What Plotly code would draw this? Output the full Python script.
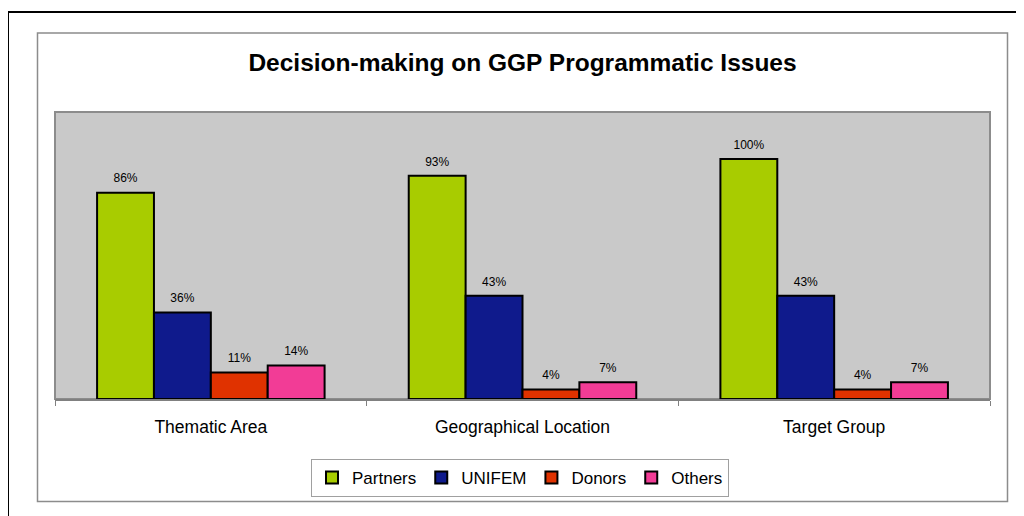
import plotly.graph_objects as go

categories = ["Thematic Area", "Geographical Location", "Target Group"]
series_names = ["Partners", "UNIFEM", "Donors", "Others"]
partners = [86, 93, 100]
unifem = [36, 43, 43]
donors = [11, 4, 4]
others = [14, 7, 7]
colors = ["#A8CC00", "#0F1A8C", "#E03200", "#F23C96"]
title_text = "Decision-making on GGP Programmatic Issues"

values = [partners, unifem, donors, others]

OFF = 8  # page body margin
W, H = 1024, 516
L, R, T, B = 55 - OFF, 990 - OFF, 112 - OFF, 399 - OFF  # plot area in figure px


def px_x(p):
    return (p - OFF - L) / (R - L)


def px_y(p):
    return (B - (p - OFF)) / (B - T)


fig = go.Figure()
for name, vals, col in zip(series_names, values, colors):
    fig.add_trace(go.Bar(
        name=name, x=categories, y=vals,
        marker=dict(color=col, line=dict(color="#000000", width=2)),
        offsetgroup=name, legendgroup=name,
    ))
for name, vals in zip(series_names, values):
    fig.add_trace(go.Scatter(
        x=categories, y=vals, mode="markers+text",
        text=[f"{v}%" for v in vals], textposition="top center",
        textfont=dict(family="Liberation Sans, Arial", size=12, color="#000"),
        marker=dict(size=10, color="rgba(0,0,0,0)", line=dict(width=0)),
        offsetgroup=name, showlegend=False,
        hoverinfo="skip", cliponaxis=False,
    ))

shapes = [
    dict(type="rect", xref="paper", yref="paper",
         x0=px_x(8), x1=px_x(1040), y0=px_y(540), y1=px_y(12),
         line=dict(color="#000000", width=2), fillcolor="rgba(0,0,0,0)", layer="below"),
    dict(type="rect", xref="paper", yref="paper",
         x0=px_x(37.5), x1=px_x(1007.5), y0=px_y(501.5), y1=px_y(33),
         line=dict(color="#8C8C8C", width=1.5), fillcolor="rgba(0,0,0,0)", layer="below"),
    dict(type="rect", xref="paper", yref="paper",
         x0=0, x1=1, y0=0, y1=1,
         line=dict(color="#8C8C8C", width=2), fillcolor="rgba(0,0,0,0)", layer="below"),
]

fig.update_layout(
    width=W, height=H,
    margin=dict(l=L, r=W - R, t=T, b=H - B),
    paper_bgcolor="#FFFFFF", plot_bgcolor="#C9C9C9",
    barmode="group", bargap=0.27, bargroupgap=0,
    scattermode="group", scattergap=0.27,
    font=dict(family="Liberation Sans, Arial", color="#000"),
    title=dict(text=f"<b>{title_text}</b>", x=0.5, xref="paper", xanchor="center",
               y=1 - (62 - OFF) / H, yanchor="middle", yref="container",
               font=dict(size=24.5, family="Liberation Sans, Arial", color="#000")),
    xaxis=dict(type="category", showline=True, linecolor="#808080", linewidth=1.5,
               ticks="outside", tickson="boundaries", ticklen=5, tickcolor="#808080",
               tickfont=dict(size=17.5), ticklabelstandoff=11, showgrid=False),
    yaxis=dict(range=[0, 119.6], visible=False, showgrid=False, zeroline=False),
    showlegend=True,
    legend=dict(orientation="h", x=px_x(520), xanchor="center", y=px_y(478), yanchor="middle",
                bordercolor="#A0A0A0", borderwidth=1, bgcolor="#FFFFFF",
                font=dict(size=17), itemwidth=30, traceorder="normal"),
    shapes=shapes,
)

fig.write_html("out.html")
